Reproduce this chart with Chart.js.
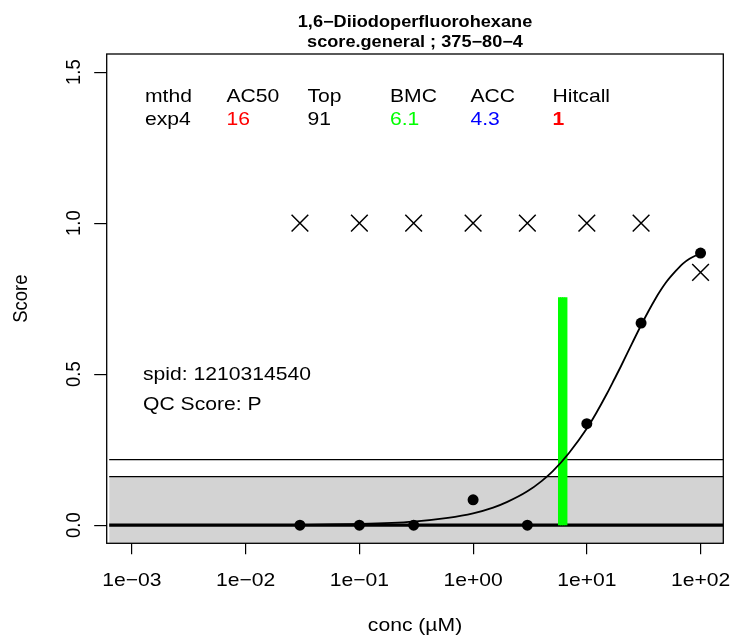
<!DOCTYPE html>
<html>
<head>
<meta charset="utf-8">
<script src="https://cdn.jsdelivr.net/npm/chart.js@4"></script>
<style>
  html, body { margin: 0; padding: 0; background: #fff; }
  canvas { display: block; }
</style>
</head>
<body>
<canvas id="doseChart" width="733" height="638"></canvas>
<script>
// measured concentrations and responses
const concs = [0.03, 0.1, 0.3, 1, 3, 10, 30, 100];
const respDots = [0, 0, 0, 0.084, 0, 0.336, 0.669, 0.901];
const respCross = [1, 1, 1, 1, 1, 1, 1, 0.837];

// fitted exp4 curve
const curveConc = [0.03, 0.1, 0.3, 0.6, 1, 1.5, 2, 3, 4, 5, 7, 10, 12, 15, 17.5, 20, 25, 30, 35, 40, 45, 50, 60, 70, 80, 90, 100];
const curveScore = [0.001, 0.004, 0.012, 0.024, 0.039, 0.058, 0.077, 0.112, 0.146, 0.178, 0.24, 0.32, 0.369, 0.435, 0.484, 0.527, 0.602, 0.662, 0.71, 0.749, 0.78, 0.805, 0.84, 0.866, 0.882, 0.892, 0.898];

// BMC lines and cutoffs
const bmcConcs = [5.75, 6.0, 6.25, 6.55];
const bmcTop = 0.755;
const bandTop = 0.161;
const cutLine = 0.217;

// axes
const xRange = [Math.pow(10, -3.2), Math.pow(10, 2.2)];
const yRange = [-0.06, 1.56];
const xTicks = [1e-3, 1e-2, 1e-1, 1, 10, 100];
const xTickLabels = ['1e\u221203', '1e\u221202', '1e\u221201', '1e+00', '1e+01', '1e+02'];
const yTicks = [0, 0.5, 1, 1.5];
const yTickLabels = ['0.0', '0.5', '1.0', '1.5'];

// text in the plot
const titleLines = ['1,6\u2212Diiodoperfluorohexane', 'score.general ; 375\u221280\u22124'];
const tableHead = ['mthd', 'AC50', 'Top', 'BMC', 'ACC', 'Hitcall'];
const tableVals = ['exp4', '16', '91', '6.1', '4.3', '1'];
const tableColors = ['#000000', '#FF0000', '#000000', '#00FF00', '#0000FF', '#FF0000'];
const infoLines = ['spid: 1210314540', 'QC Score: P'];

const SX = 733 / 638; // picture is stretched sideways
const FONT = '"Liberation Sans", Arial, sans-serif';

function drawText(ctx, s, x, y, o) {
  ctx.save();
  ctx.translate(x, y);
  ctx.scale(SX, 1);
  if (o.rot) ctx.rotate(-Math.PI / 2);
  ctx.font = (o.bold ? 'bold ' : '') + o.size + 'px ' + FONT;
  ctx.fillStyle = o.color || '#000';
  ctx.textAlign = o.align || 'left';
  ctx.textBaseline = 'alphabetic';
  ctx.fillText(s, 0, 0);
  ctx.restore();
}

const textPlugin = {
  id: 'rtext',
  afterDraw(chart) {
    const ctx = chart.ctx;
    const a = chart.chartArea;
    const xs = chart.scales.x, ys = chart.scales.y;
    const cx = (a.left + a.right) / 2;

    // box
    ctx.save();
    ctx.strokeStyle = '#000';
    ctx.lineWidth = 1.3;
    ctx.strokeRect(a.left, a.top, a.right - a.left, a.bottom - a.top);
    ctx.restore();

    drawText(ctx, titleLines[0], cx, 26.5, { size: 15.8, bold: true, align: 'center' });
    drawText(ctx, titleLines[1], cx, 46.5, { size: 15.8, bold: true, align: 'center' });

    xs.ticks.forEach((t, i) => {
      drawText(ctx, xTickLabels[i], xs.getPixelForValue(t.value), 586, { size: 18.4, align: 'center' });
    });
    ys.ticks.forEach((t, i) => {
      drawText(ctx, yTickLabels[i], 80, ys.getPixelForValue(t.value), { size: 18.4, align: 'center', rot: true });
    });
    drawText(ctx, 'conc (\u00b5M)', cx, 631, { size: 18.4, align: 'center' });
    drawText(ctx, 'Score', 27, (a.top + a.bottom) / 2, { size: 18.4, align: 'center', rot: true });

    const colX = [145, 226.5, 307.5, 390, 470.5, 552.5];
    tableHead.forEach((s, i) => drawText(ctx, s, colX[i], 101.5, { size: 18.4 }));
    tableVals.forEach((s, i) => drawText(ctx, s, colX[i], 124.5, {
      size: 18.4, color: tableColors[i], bold: i === tableVals.length - 1
    }));

    drawText(ctx, infoLines[0], 143, 380, { size: 18.4 });
    drawText(ctx, infoLines[1], 143, 410, { size: 18.4 });
  }
};

function hline(y, width, extra) {
  return Object.assign({
    data: [{ x: xRange[0], y: y }, { x: xRange[1], y: y }],
    borderColor: '#000', borderWidth: width, pointRadius: 0, fill: false
  }, extra || {});
}

function noPad(s) {
  s.paddingLeft = 0; s.paddingRight = 0; s.paddingTop = 0; s.paddingBottom = 0;
}

const ctx = document.getElementById('doseChart').getContext('2d');

const chart = new Chart(ctx, {
  type: 'line',
  data: {
    datasets: [
      {
        data: concs.map((c, i) => ({ x: c, y: respDots[i] })),
        showLine: false, pointRadius: 5.5, pointBackgroundColor: '#000',
        pointBorderColor: '#000', pointBorderWidth: 0
      },
      {
        data: concs.map((c, i) => ({ x: c, y: respCross[i] })),
        showLine: false, pointStyle: 'crossRot', pointRadius: 11.8,
        pointBorderColor: '#000', pointBorderWidth: 1.5
      },
      {
        data: curveConc.map((c, i) => ({ x: c, y: curveScore[i] })),
        borderColor: '#000', borderWidth: 1.8, pointRadius: 0,
        cubicInterpolationMode: 'monotone', fill: false
      },
      ...bmcConcs.map(c => ({
        data: [{ x: c, y: 0 }, { x: c, y: bmcTop }],
        borderColor: '#00FF00', borderWidth: 3, pointRadius: 0, fill: false
      })),
      hline(0, 3.3),
      hline(cutLine, 1.3),
      hline(bandTop, 1.3, { fill: 'start', backgroundColor: '#D3D3D3' })
    ]
  },
  options: {
    responsive: false,
    animation: false,
    devicePixelRatio: 1,
    // big cross markers would otherwise push the plot edge in
    layout: { autoPadding: false, padding: { left: 0, right: 9.7, top: 54, bottom: 0 } },
    plugins: { legend: { display: false }, tooltip: { enabled: false }, title: { display: false } },
    scales: {
      x: {
        type: 'logarithmic',
        min: xRange[0], max: xRange[1],
        afterBuildTicks: s => { s.ticks = xTicks.map(v => ({ value: v })); },
        afterFit: s => { s.height = 638 - 543.3; noPad(s); },
        border: { display: false },
        grid: { drawOnChartArea: false, drawTicks: true, tickLength: 11, color: '#000', lineWidth: 1.2 },
        ticks: { color: 'rgba(0,0,0,0)', maxRotation: 0, autoSkip: false }
      },
      y: {
        type: 'linear',
        min: yRange[0], max: yRange[1],
        afterBuildTicks: s => { s.ticks = yTicks.map(v => ({ value: v })); },
        afterFit: s => { s.width = 106.7; noPad(s); },
        border: { display: false },
        grid: { drawOnChartArea: false, drawTicks: true, tickLength: 12.5, color: '#000', lineWidth: 1.2 },
        ticks: { color: 'rgba(0,0,0,0)' }
      }
    }
  },
  plugins: [textPlugin]
});
</script>
</body>
</html>
